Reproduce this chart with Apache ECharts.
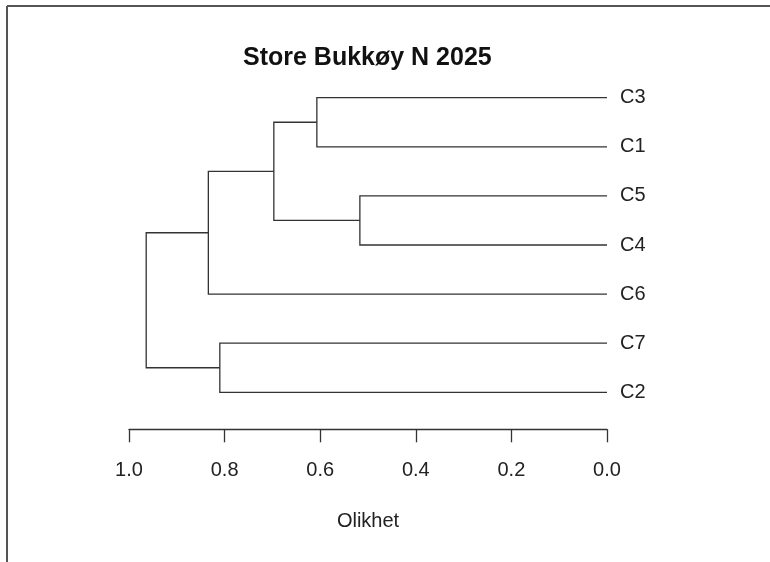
<!DOCTYPE html>
<html>
<head>
<meta charset="utf-8">
<script src="https://cdn.jsdelivr.net/npm/echarts@6/dist/echarts.min.js"></script>
<style>
html,body{margin:0;padding:0;background:#fff;}
#chart{width:770px;height:562px;}
</style>
</head>
<body>
<div id="chart"></div>
<script>
// ---- data ----
const titleText = 'Store Bukkøy N 2025';
const axisTitle = 'Olikhet';
const leaves = ['C3', 'C1', 'C5', 'C4', 'C6', 'C7', 'C2'];
// merges (R-style): negative = leaf index (1-based), positive = earlier merge (1-based)
const mergeA = [-1, -3, 1, 3, -6, 4];
const mergeB = [-2, -4, 2, -5, -7, 5];
const mergeHeights = [0.607, 0.517, 0.697, 0.834, 0.810, 0.964];

// ---- derive node positions ----
const mergeY = [];
function nodeY(ref) { return ref < 0 ? (-ref - 1) : mergeY[ref - 1]; }
function nodeH(ref) { return ref < 0 ? 0 : mergeHeights[ref - 1]; }
const segData = [];
for (let i = 0; i < mergeHeights.length; i++) {
  const yA = nodeY(mergeA[i]), yB = nodeY(mergeB[i]);
  mergeY.push((yA + yB) / 2);
  segData.push([mergeHeights[i], yA, yB, nodeH(mergeA[i]), nodeH(mergeB[i])]);
}

const chart = echarts.init(document.getElementById('chart'), null, {renderer: 'canvas'});
const font = 'Liberation Sans, Arial, sans-serif';
chart.setOption({
  backgroundColor: '#fff',
  animation: false,
  title: {
    text: titleText,
    left: 243,
    top: 46,
    padding: 0,
    textStyle: {fontFamily: font, fontSize: 25, fontWeight: 'bold', color: '#111'}
  },
  grid: {left: 129, right: 163, top: 97.7, bottom: 169.7, containLabel: false},
  xAxis: {
    type: 'value',
    position: 'bottom',
    min: 0, max: 1, interval: 0.2,
    inverse: true,
    offset: 37,
    axisLine: {show: true, onZero: false, lineStyle: {color: '#333', width: 1.3}},
    axisTick: {show: true, length: 13, lineStyle: {color: '#333', width: 1.3}},
    axisLabel: {fontFamily: font, fontSize: 20, color: '#222', margin: 31,
      formatter: v => v.toFixed(1)},
    splitLine: {show: false},
    name: axisTitle,
    nameLocation: 'middle',
    nameGap: 82,
    nameTextStyle: {fontFamily: font, fontSize: 20, color: '#222'}
  },
  yAxis: {
    type: 'value',
    min: 0, max: leaves.length - 1, interval: 1,
    inverse: true,
    position: 'right',
    axisLine: {show: false, onZero: false},
    axisTick: {show: false},
    splitLine: {show: false},
    axisLabel: {fontFamily: font, fontSize: 20, color: '#222', margin: 13,
      padding: [5, 0, 0, 0],
      formatter: v => leaves[v] || ''}
  },
  graphic: [
    {type: 'line', shape: {x1: 7, y1: 6, x2: 770, y2: 6}, style: {stroke: '#555', lineWidth: 2}},
    {type: 'line', shape: {x1: 7, y1: 6, x2: 7, y2: 562}, style: {stroke: '#555', lineWidth: 2}}
  ],
  series: [{
    type: 'custom',
    coordinateSystem: 'cartesian2d',
    data: segData,
    encode: {x: 0, y: 1},
    renderItem: function (params, api) {
      const h = api.value(0), yA = api.value(1), yB = api.value(2);
      const hA = api.value(3), hB = api.value(4);
      const p1 = api.coord([hA, yA]);
      const p2 = api.coord([h, yA]);
      const p3 = api.coord([h, yB]);
      const p4 = api.coord([hB, yB]);
      return {
        type: 'polyline',
        shape: {points: [p1, p2, p3, p4]},
        style: {stroke: '#333', lineWidth: 1.3, fill: null}
      };
    }
  }]
});
</script>
</body>
</html>
